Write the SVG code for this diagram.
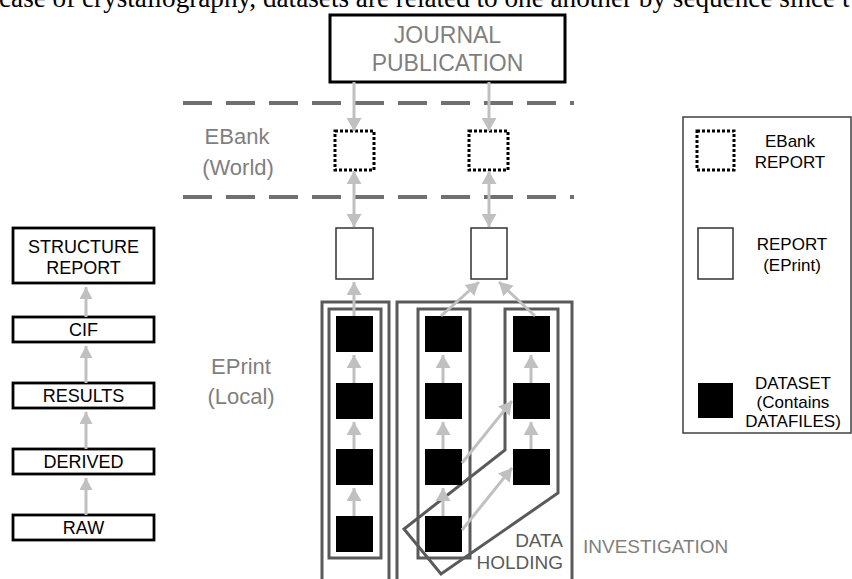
<svg xmlns="http://www.w3.org/2000/svg" width="852" height="579" viewBox="0 0 852 579">
<style>
  .bg { fill: #ffffff; }
  .lbl { font-family: "Liberation Sans", Arial, sans-serif; }
  .gray { fill: #7f7f7f; }
  .dgray { fill: #5a5a5a; }
  .blk { fill: #000000; }
  .stackbox { fill: #ffffff; stroke: #000000; stroke-width: 2.8; }
  .dotbox { fill: #ffffff; stroke: #000000; stroke-width: 3; stroke-dasharray: 3 2; }
  .report { fill: #ffffff; stroke: #333333; stroke-width: 1.5; }
  .dataset { fill: #000000; }
  .grp { fill: none; stroke: #5a5a5a; stroke-width: 3; }
  .dash { fill: none; stroke: #707070; stroke-width: 4; stroke-dasharray: 29 14; }
  .conn { fill: none; stroke: #c0c0c0; stroke-width: 3; }
</style>
<defs>
  <marker id="ah" viewBox="0 0 13 15" refX="13" refY="7.5" markerWidth="13" markerHeight="15" markerUnits="userSpaceOnUse" orient="auto-start-reverse">
    <path d="M0,0 L13,7.5 L0,15 z" fill="#c0c0c0"/>
  </marker>
  <marker id="ahs" viewBox="0 0 12 13" refX="12" refY="6.5" markerWidth="12" markerHeight="13" markerUnits="userSpaceOnUse" orient="auto-start-reverse">
    <path d="M0,0 L12,6.5 L0,13 z" fill="#c0c0c0"/>
  </marker>
</defs>
<rect class="bg" x="0" y="0" width="852" height="579"/>

<text x="-1" y="7" font-family="'Liberation Serif', 'Times New Roman', serif" font-size="27.2" fill="#000000">case of crystallography, datasets are related to one another by sequence since t</text>

<!-- region dividers and labels -->
<g id="ebank-region">
  <line class="dash" x1="183" y1="103" x2="574" y2="103"/>
  <line class="dash" x1="183" y1="197" x2="574" y2="197"/>
  <text class="lbl gray" x="237" y="144" font-size="22" text-anchor="middle">EBank</text>
  <text class="lbl gray" x="238" y="175" font-size="22" text-anchor="middle">(World)</text>
</g>
<g id="eprint-label">
  <text class="lbl gray" x="241" y="374" font-size="22" text-anchor="middle">EPrint</text>
  <text class="lbl gray" x="241" y="404" font-size="22" text-anchor="middle">(Local)</text>
</g>

<!-- group boxes -->
<g id="eprint-group">
  <rect class="grp" x="322" y="302" width="67" height="300"/>
  <rect class="grp" x="329" y="309" width="52" height="249"/>
</g>
<g id="investigation">
  <rect class="grp" x="397" y="302" width="175" height="300"/>
  <text class="lbl gray" x="583" y="553" font-size="19">INVESTIGATION</text>
</g>
<g id="holding-a">
  <rect class="grp" x="418" y="309" width="52" height="249"/>
</g>
<g id="data-holding">
  <polygon class="grp" points="505,309 558,309 558,493 441,574 404,529 505,450"/>
  <text class="lbl dgray" x="563" y="547" font-size="19" text-anchor="end">DATA</text>
  <text class="lbl dgray" x="563" y="569" font-size="19" text-anchor="end">HOLDING</text>
</g>

<!-- journal -->
<g id="journal">
  <rect x="330" y="15" width="235" height="67" fill="#ffffff" stroke="#000000" stroke-width="3"/>
  <text class="lbl gray" x="447.5" y="43" font-size="23" text-anchor="middle">JOURNAL</text>
  <text class="lbl gray" x="447.5" y="71" font-size="23" text-anchor="middle">PUBLICATION</text>
</g>

<!-- ebank reports -->
<g id="ebank1"><rect class="dotbox" x="335" y="131" width="39" height="39"/></g>
<g id="ebank2"><rect class="dotbox" x="469" y="131" width="39" height="39"/></g>

<!-- eprint reports -->
<g id="report1"><rect class="report" x="336" y="228" width="37" height="51"/></g>
<g id="report2"><rect class="report" x="471" y="228" width="36" height="51"/></g>

<!-- datasets column 1 -->
<g id="ds1-1"><rect class="dataset" x="336" y="316" width="37" height="36"/></g>
<g id="ds1-2"><rect class="dataset" x="336" y="383" width="37" height="36"/></g>
<g id="ds1-3"><rect class="dataset" x="336" y="449" width="37" height="36"/></g>
<g id="ds1-4"><rect class="dataset" x="336" y="516" width="37" height="36"/></g>
<!-- datasets column A -->
<g id="dsA-1"><rect class="dataset" x="425" y="316" width="37" height="36"/></g>
<g id="dsA-2"><rect class="dataset" x="425" y="383" width="37" height="36"/></g>
<g id="dsA-3"><rect class="dataset" x="425" y="449" width="37" height="36"/></g>
<g id="dsA-4"><rect class="dataset" x="425" y="516" width="37" height="36"/></g>
<!-- datasets column B -->
<g id="dsB-1"><rect class="dataset" x="513" y="316" width="37" height="36"/></g>
<g id="dsB-2"><rect class="dataset" x="513" y="383" width="37" height="36"/></g>
<g id="dsB-3"><rect class="dataset" x="513" y="449" width="37" height="36"/></g>

<!-- left stack -->
<g id="structure-report">
  <rect class="stackbox" x="13" y="228" width="141" height="55"/>
  <text class="lbl blk" x="83.5" y="253" font-size="18" text-anchor="middle">STRUCTURE</text>
  <text class="lbl blk" x="83.5" y="274" font-size="18" text-anchor="middle">REPORT</text>
</g>
<g id="cif">
  <rect class="stackbox" x="13" y="317" width="141" height="25"/>
  <text class="lbl blk" x="83.5" y="336" font-size="18" text-anchor="middle">CIF</text>
</g>
<g id="results">
  <rect class="stackbox" x="13" y="383" width="141" height="25"/>
  <text class="lbl blk" x="83.5" y="402" font-size="18" text-anchor="middle">RESULTS</text>
</g>
<g id="derived">
  <rect class="stackbox" x="13" y="449" width="141" height="25"/>
  <text class="lbl blk" x="83.5" y="468" font-size="18" text-anchor="middle">DERIVED</text>
</g>
<g id="raw">
  <rect class="stackbox" x="13" y="515" width="141" height="25"/>
  <text class="lbl blk" x="83.5" y="534" font-size="18" text-anchor="middle">RAW</text>
</g>

<!-- legend -->
<g id="legend">
  <rect x="683" y="117" width="168" height="316" fill="#ffffff" stroke="#404040" stroke-width="1.5"/>
  <rect class="dotbox" x="697" y="131" width="37" height="39"/>
  <text class="lbl blk" x="790" y="147" font-size="17" text-anchor="middle">EBank</text>
  <text class="lbl blk" x="790" y="168" font-size="17" text-anchor="middle">REPORT</text>
  <rect class="report" x="698" y="228" width="35" height="51"/>
  <text class="lbl blk" x="792" y="250" font-size="17" text-anchor="middle">REPORT</text>
  <text class="lbl blk" x="792" y="271" font-size="17" text-anchor="middle">(EPrint)</text>
  <rect class="dataset" x="698" y="383" width="35" height="35"/>
  <text class="lbl blk" x="793" y="389" font-size="17" text-anchor="middle">DATASET</text>
  <text class="lbl blk" x="793" y="408" font-size="17" text-anchor="middle">(Contains</text>
  <text class="lbl blk" x="793" y="427" font-size="17" text-anchor="middle">DATAFILES)</text>
</g>

<!-- connectors -->
<g id="connectors">
  <line class="conn" x1="354" y1="82" x2="354" y2="131" marker-end="url(#ah)"/>
  <line class="conn" x1="489" y1="82" x2="489" y2="131" marker-end="url(#ah)"/>
  <line class="conn" x1="354" y1="171" x2="354" y2="227" marker-start="url(#ah)" marker-end="url(#ah)"/>
  <line class="conn" x1="489" y1="171" x2="489" y2="227" marker-start="url(#ah)" marker-end="url(#ah)"/>
  <line class="conn" x1="354" y1="316" x2="354" y2="282" marker-end="url(#ah)"/>
  <line class="conn" x1="441" y1="316" x2="479" y2="282" marker-end="url(#ah)"/>
  <line class="conn" x1="535" y1="316" x2="499" y2="282" marker-end="url(#ah)"/>
  <line class="conn" x1="354" y1="383" x2="354" y2="355" marker-end="url(#ah)"/>
  <line class="conn" x1="354" y1="449" x2="354" y2="422" marker-end="url(#ah)"/>
  <line class="conn" x1="354" y1="516" x2="354" y2="488" marker-end="url(#ah)"/>
  <line class="conn" x1="443" y1="383" x2="443" y2="355" marker-end="url(#ah)"/>
  <line class="conn" x1="443" y1="449" x2="443" y2="422" marker-end="url(#ah)"/>
  <line class="conn" x1="443" y1="516" x2="443" y2="488" marker-end="url(#ah)"/>
  <line class="conn" x1="531" y1="383" x2="531" y2="355" marker-end="url(#ah)"/>
  <line class="conn" x1="531" y1="449" x2="531" y2="422" marker-end="url(#ah)"/>
  <line class="conn" x1="462" y1="463" x2="512" y2="401" marker-end="url(#ah)"/>
  <line class="conn" x1="462" y1="530" x2="512" y2="468" marker-end="url(#ah)"/>
  <line class="conn" x1="86" y1="317" x2="86" y2="287" marker-end="url(#ahs)"/>
  <line class="conn" x1="86" y1="383" x2="86" y2="346" marker-end="url(#ahs)"/>
  <line class="conn" x1="86" y1="449" x2="86" y2="412" marker-end="url(#ahs)"/>
  <line class="conn" x1="86" y1="515" x2="86" y2="478" marker-end="url(#ahs)"/>
</g>
</svg>
